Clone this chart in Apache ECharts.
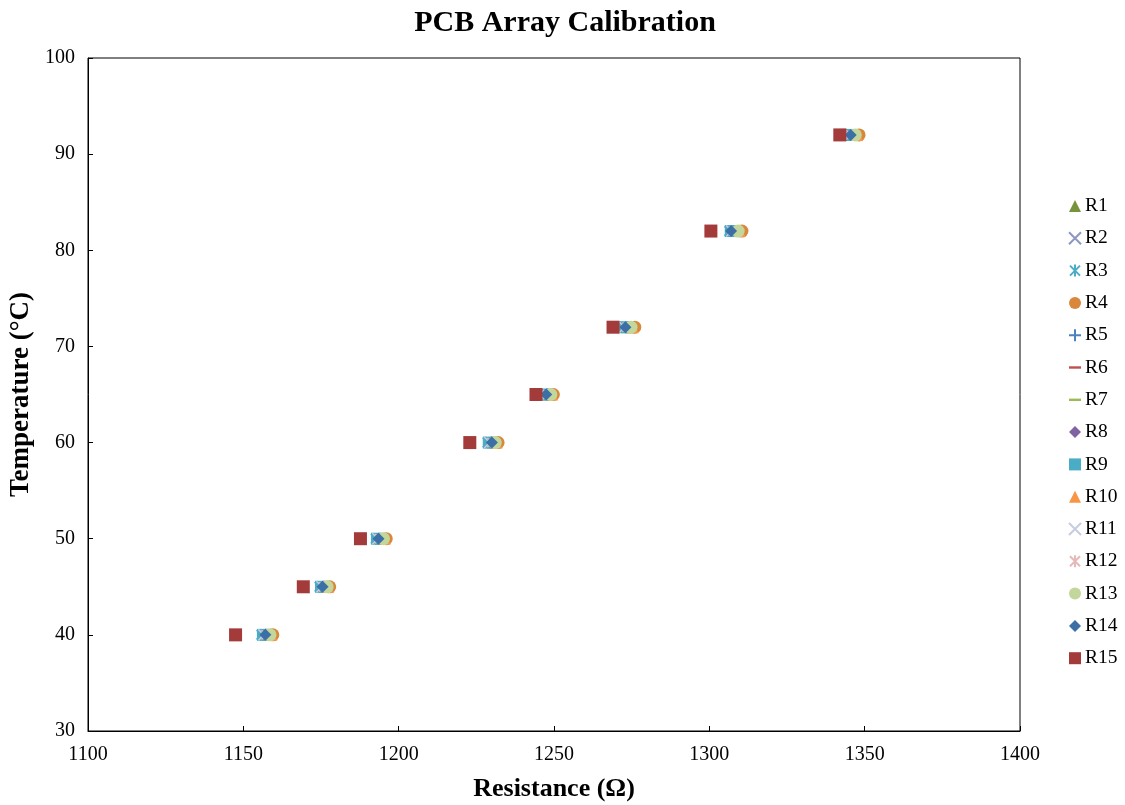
<!DOCTYPE html>
<html>
<head>
<meta charset="utf-8">
<script src="https://cdn.jsdelivr.net/npm/echarts@6/dist/echarts.min.js"></script>
<style>
  html, body { margin: 0; padding: 0; background: #fff; }
  #chart { width: 1125px; height: 805px; }
</style>
</head>
<body>
<div id="chart"></div>
<script>
// Calibration temperatures (°C)
const temps = [40, 45, 50, 60, 65, 72, 82, 92];

// Measured resistance (Ω) of each PCB resistor at those temperatures
const R1  = [1157.8, 1176.2, 1194.3, 1230.2, 1248.1, 1273.6, 1308.3, 1345.7];
const R2  = [1157.0, 1175.6, 1193.6, 1229.6, 1247.5, 1273.0, 1307.5, 1345.0];
const R3  = [1156.0, 1174.7, 1192.8, 1228.8, 1246.6, 1272.1, 1306.6, 1344.2];
const R4  = [1159.5, 1177.8, 1196.0, 1232.0, 1249.8, 1276.0, 1310.5, 1348.2];
const R5  = [1157.2, 1175.8, 1193.8, 1229.8, 1247.7, 1273.2, 1307.7, 1345.3];
const R6  = [1157.9, 1176.4, 1194.5, 1230.5, 1248.4, 1274.0, 1308.5, 1346.0];
const R7  = [1158.2, 1176.6, 1194.7, 1230.7, 1248.6, 1274.3, 1308.8, 1346.3];
const R8  = [1157.4, 1176.0, 1194.0, 1230.0, 1247.9, 1273.4, 1308.0, 1345.6];
const R9  = [1156.3, 1175.0, 1193.0, 1229.0, 1246.9, 1272.4, 1306.9, 1344.5];
const R10 = [1159.0, 1177.3, 1195.5, 1231.5, 1249.4, 1275.3, 1309.8, 1347.6];
const R11 = [1156.6, 1175.3, 1193.3, 1229.3, 1247.2, 1272.7, 1307.2, 1344.8];
const R12 = [1157.6, 1176.1, 1194.2, 1230.3, 1248.2, 1273.8, 1308.2, 1345.8];
const R13 = [1158.6, 1177.0, 1195.1, 1231.1, 1249.0, 1274.8, 1309.3, 1347.0];
const R14 = [1157.1, 1175.5, 1193.5, 1230.0, 1247.5, 1273.0, 1307.0, 1345.5];
const R15 = [1147.5, 1169.3, 1187.7, 1222.9, 1244.2, 1269.0, 1300.5, 1342.0];

const seriesNames = ['R1','R2','R3','R4','R5','R6','R7','R8','R9','R10','R11','R12','R13','R14','R15'];
const seriesValues = [R1,R2,R3,R4,R5,R6,R7,R8,R9,R10,R11,R12,R13,R14,R15];

// Marker shapes
const X_PATH    = 'path://M0,0 L10,10 M10,0 L0,10';
const STAR_PATH = 'path://M0,0 L10,10 M10,0 L0,10 M5,-1 L5,11';
const PLUS_PATH = 'path://M5,0 L5,10 M0,5 L10,5';
const DASH_PATH = 'path://M0,0 L10,0 L10,2 L0,2 Z';

const markerStyles = [
  { symbol: 'triangle', size: 12, color: '#77933C' },
  { symbol: X_PATH,     size: 11, color: '#8C97C2', stroke: true },
  { symbol: STAR_PATH,  size: 11, color: '#4BACC6', stroke: true },
  { symbol: 'circle',   size: 13, color: '#D9873A' },
  { symbol: PLUS_PATH,  size: 12, color: '#4F81BD', stroke: true },
  { symbol: DASH_PATH,  size: [7, 2.5], color: '#C0504D' },
  { symbol: DASH_PATH,  size: [12, 3], color: '#9BBB59' },
  { symbol: 'diamond',  size: 12, color: '#8064A2' },
  { symbol: 'rect',     size: 12, color: '#4BACC6' },
  { symbol: 'triangle', size: 12, color: '#F79646' },
  { symbol: X_PATH,     size: 11, color: '#C6CCE2', stroke: true },
  { symbol: STAR_PATH,  size: 11, color: '#E6B9B8', stroke: true },
  { symbol: 'circle',   size: 13, color: '#C3D69B' },
  { symbol: 'diamond',  size: 12, color: '#3B6FA6' },
  { symbol: 'rect',     size: 13, color: '#A23B3A' }
];

const serif = '"Liberation Serif", "DejaVu Serif", serif';

const series = seriesNames.map((name, i) => {
  const m = markerStyles[i];
  const itemStyle = m.stroke
    ? { color: 'rgba(0,0,0,0)', borderColor: m.color, borderWidth: 1.5, opacity: 1 }
    : { color: m.color, opacity: 1 };
  return {
    name: name,
    type: 'scatter',
    symbol: m.symbol,
    symbolSize: m.size,
    itemStyle: itemStyle,
    z: 2 + i,
    data: seriesValues[i].map((r, k) => [r, temps[k]])
  };
});

const chart = echarts.init(document.getElementById('chart'), null, { renderer: 'canvas' });
chart.setOption({
  backgroundColor: '#ffffff',
  animation: false,
  title: {
    text: 'PCB Array Calibration',
    left: 560,
    top: 3,
    textAlign: 'center',
    textStyle: { fontFamily: serif, fontWeight: 'bold', fontSize: 30, color: '#000' }
  },
  grid: {
    left: 88, top: 58, right: 105, bottom: 74,
    containLabel: false,
    outerBoundsMode: 'none',
    show: true, borderColor: '#000', borderWidth: 1, backgroundColor: 'transparent'
  },
  legend: {
    orient: 'vertical',
    left: 1063,
    top: 191,
    itemWidth: 12,
    itemHeight: 12,
    itemGap: 12.3,
    textStyle: { fontFamily: serif, fontSize: 19.5, color: '#000', padding: [0, 0, 0, -1] },
    data: seriesNames
  },
  xAxis: {
    type: 'value',
    min: 1100, max: 1400, interval: 50,
    name: 'Resistance (Ω)',
    nameLocation: 'middle',
    nameGap: 45,
    nameTextStyle: { fontFamily: serif, fontWeight: 'bold', fontSize: 26, color: '#000' },
    axisLine: { show: true, onZero: false, lineStyle: { color: '#000', width: 1 } },
    axisTick: { show: true, inside: true, length: 5, lineStyle: { color: '#000' } },
    axisLabel: { fontFamily: serif, fontSize: 20, color: '#000', margin: 14, formatter: v => String(v) },
    splitLine: { show: false }
  },
  yAxis: {
    type: 'value',
    min: 30, max: 100, interval: 10,
    name: 'Temperature (°C)',
    nameLocation: 'middle',
    nameGap: 48,
    nameRotate: 90,
    nameTextStyle: { fontFamily: serif, fontWeight: 'bold', fontSize: 27, color: '#000' },
    axisLine: { show: true, onZero: false, lineStyle: { color: '#000', width: 1 } },
    axisTick: { show: true, inside: true, length: 5, lineStyle: { color: '#000' } },
    axisLabel: { fontFamily: serif, fontSize: 20, color: '#000', margin: 13, formatter: v => String(v) },
    splitLine: { show: false }
  },
  series: series
});
</script>
</body>
</html>
